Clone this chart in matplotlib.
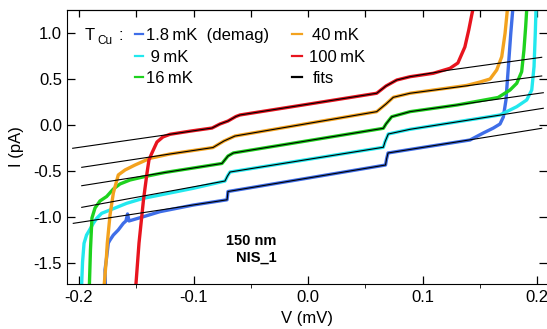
import numpy as np
import matplotlib
matplotlib.use('Agg')
from matplotlib import pyplot as plt
from matplotlib.ticker import MultipleLocator, FormatStrFormatter

plt.rcParams['font.family'] = ['Liberation Sans', 'DejaVu Sans']
plt.rcParams['axes.unicode_minus'] = False

v_18 = [-0.1769, -0.1773, -0.1758, -0.1744, -0.1729, -0.170, -0.1657, -0.1613, -0.159, -0.1576, -0.1563,
        -0.1438, -0.1293, -0.1002, -0.0707, -0.0703, -0.0699, 0.0, 0.0677, 0.0686, 0.0699, 0.100,
        0.1415, 0.1531, 0.1619, 0.1677, 0.1706, 0.1729, 0.175, 0.1771, 0.1788, 0.1791]
i_18 = [-1.77, -1.576, -1.432, -1.283, -1.25, -1.196, -1.141, -1.069, -1.043, -0.967, -1.043,
        -0.997, -0.942, -0.87, -0.813, -0.772, -0.723, -0.577, -0.435, -0.370, -0.304, -0.244,
        -0.163, -0.087, -0.033, 0.011, 0.087, 0.272, 0.634, 0.997, 1.25, 1.337]

v_9 = [-0.1978, -0.1969, -0.1956, -0.1934, -0.1913, -0.1875, -0.1845, -0.1802, -0.1729, -0.1583,
       -0.1438, -0.1293, -0.1002, -0.0725, -0.0703, -0.0681, 0.0, 0.0658, 0.0672, 0.0701, 0.0891,
       0.130, 0.1677, 0.1823, 0.191, 0.1954, 0.1974, 0.1985, 0.1991, 0.1993]
i_9 = [-1.77, -1.489, -1.286, -1.196, -1.152, -1.069, -1.014, -0.96, -0.924, -0.851,
       -0.797, -0.761, -0.688, -0.609, -0.554, -0.511, -0.374, -0.242, -0.185, -0.098, -0.047,
       0.034, 0.109, 0.199, 0.272, 0.38, 0.634, 0.997, 1.25, 1.337]

v_16 = [-0.191, -0.190, -0.1887, -0.186, -0.1817, -0.1758, -0.170, -0.1642, -0.1555, -0.1424,
        -0.1249, -0.0943, -0.0751, -0.0699, -0.0652, 0.0, 0.0658, 0.0681, 0.0731, 0.0891, 0.130,
        0.166, 0.1764, 0.1823, 0.1866, 0.1886, 0.1901, 0.191, 0.1913]
i_16 = [-1.77, -1.359, -1.011, -0.902, -0.826, -0.777, -0.696, -0.641, -0.598, -0.56,
        -0.516, -0.456, -0.418, -0.337, -0.304, -0.171, -0.036, 0.011, 0.09, 0.145, 0.217,
        0.299, 0.38, 0.453, 0.579, 0.815, 1.068, 1.25, 1.337]

v_40 = [-0.1782, -0.1762, -0.1753, -0.1729, -0.170, -0.1657, -0.1598, -0.1511, -0.138, -0.1205,
        -0.083, -0.0734, -0.0638, 0.0, 0.06, 0.0681, 0.0745, 0.0891, 0.1386, 0.1502, 0.159,
        0.1648, 0.1692, 0.1721, 0.1741, 0.1747]
i_40 = [-1.77, -1.467, -1.286, -0.978, -0.739, -0.543, -0.489, -0.435, -0.362, -0.315,
        -0.245, -0.174, -0.12, 0.017, 0.145, 0.228, 0.301, 0.345, 0.43, 0.467, 0.50,
        0.598, 0.742, 0.997, 1.25, 1.326]

v_100 = [-0.1505, -0.1476, -0.1437, -0.1406, -0.1389, -0.1363, -0.1319, -0.1267, -0.1205, -0.102,
         -0.0838, -0.0769, -0.0699, -0.063, -0.0594, 0.0, 0.06, 0.0681, 0.0775, 0.0891, 0.1094,
         0.124, 0.1309, 0.137, 0.1404, 0.143, 0.1448]
i_100 = [-1.77, -1.284, -0.815, -0.521, -0.380, -0.304, -0.185, -0.130, -0.101, -0.065,
         -0.033, 0.011, 0.043, 0.092, 0.109, 0.226, 0.345, 0.424, 0.489, 0.525, 0.562,
         0.616, 0.674, 0.848, 1.033, 1.196, 1.304]

# fits
fv_18 = [-0.205, -0.0707, -0.0703, -0.0699, 0.0677, 0.0686, 0.0699, 0.2041]
fi_18 = [-1.069, -0.813, -0.772, -0.723, -0.435, -0.370, -0.304, -0.036]
fv_9 = [-0.1976, -0.0725, -0.0703, -0.0681, 0.0658, 0.0672, 0.0701, 0.0891, 0.2055]
fi_9 = [-0.895, -0.609, -0.554, -0.511, -0.242, -0.185, -0.098, -0.047, 0.182]
fv_16 = [-0.1976, -0.0751, -0.0699, -0.0652, 0.0658, 0.0681, 0.0731, 0.0891, 0.2055]
fi_16 = [-0.66, -0.418, -0.337, -0.304, -0.036, 0.011, 0.09, 0.145, 0.351]
fv_40 = [-0.1976, -0.083, -0.0734, -0.0638, 0.06, 0.0681, 0.0745, 0.0891, 0.2041]
fi_40 = [-0.46, -0.245, -0.174, -0.12, 0.145, 0.228, 0.301, 0.345, 0.533]
fv_100 = [-0.2055, -0.1205, -0.0838, -0.0769, -0.0699, -0.063, -0.0594, 0.06, 0.0681, 0.0775,
          0.0891, 0.124, 0.2041]
fi_100 = [-0.253, -0.101, -0.033, 0.011, 0.043, 0.092, 0.109, 0.345, 0.424, 0.489,
          0.525, 0.598, 0.736]

labels = ['1.8\u2009mK  (demag)', ' 9\u2009mK', '16\u2009mK', '40\u2009mK', '100\u2009mK', 'fits']
colors = ['#3f6ee8', '#22e8ee', '#1ed21e', '#f3a21e', '#e8141e']

fig = plt.figure(figsize=(5.47, 3.29), dpi=100)
ax = fig.add_axes([67/547, 45/329, 480/547, 274/329])

curves = [(v_18, i_18), (v_9, i_9), (v_16, i_16), (v_40, i_40), (v_100, i_100)]
fits = [(fv_18, fi_18), (fv_9, fi_9), (fv_16, fi_16), (fv_40, fi_40), (fv_100, fi_100)]
for (v, i), c in zip(curves, colors):
    ax.plot(v, i, color=c, lw=2.4, solid_joinstyle='round')
for v, i in fits:
    ax.plot(v, i, color='black', lw=0.8)

ax.set_xlim(-0.21048, 0.20873)
ax.set_ylim(-1.7283, 1.25)

ax.xaxis.set_major_locator(MultipleLocator(0.1))
ax.xaxis.set_minor_locator(MultipleLocator(0.05))
ax.yaxis.set_major_locator(MultipleLocator(0.5))
ax.xaxis.set_major_formatter(FormatStrFormatter('%.1f'))
ax.yaxis.set_major_formatter(FormatStrFormatter('%.1f'))
ax.tick_params(axis='both', direction='in', labelsize=12, width=0.9)
ax.tick_params(axis='x', which='major', length=6, pad=4)
ax.tick_params(axis='x', which='minor', length=3)
ax.tick_params(axis='y', which='major', length=6, pad=3.5, right=True)
ax.spines['right'].set_visible(False)

top = ax.secondary_xaxis('top')
top.xaxis.set_major_locator(MultipleLocator(0.05))
top.tick_params(direction='in', length=5, width=0.9, labeltop=False)

ax.set_xlabel('V (mV)', fontsize=12)
ax.set_ylabel('I (pA)', fontsize=12)
ax.xaxis.set_label_coords(0.5, -0.10)
ax.yaxis.set_label_coords(-0.09, 0.5)

# legend, placed by hand
tr = ax.transAxes
ax.text(0.0373, 0.891, 'T', fontsize=12, transform=tr)
ax.text(0.064, 0.876, 'Cu', fontsize=8.5, transform=tr)
ax.text(0.108, 0.891, ':', fontsize=12, transform=tr)
rows = [0.912, 0.832, 0.755]
bases = [0.891, 0.810, 0.734]
xs_h = [(0.141, 0.158), (0.141, 0.158), (0.141, 0.158), (0.4695, 0.4903), (0.4695, 0.4903), (0.4695, 0.4903)]
xs_t = [0.165, 0.165, 0.165, 0.511, 0.504, 0.511]
for k, lab in enumerate(labels):
    c = colors[k] if k < 5 else 'black'
    r = k % 3
    ax.plot(xs_h[k], [rows[r], rows[r]], color=c, lw=1.6, transform=tr)
    ax.text(xs_t[k], bases[r], lab, fontsize=12, transform=tr)

ax.text(0.4357, 0.1423, '150 nm', fontsize=10.5, fontweight='bold', ha='right', transform=tr)
ax.text(0.4357, 0.0803, 'NIS_1', fontsize=10.5, fontweight='bold', ha='right', transform=tr)

fig.savefig('out.png', dpi=100)
